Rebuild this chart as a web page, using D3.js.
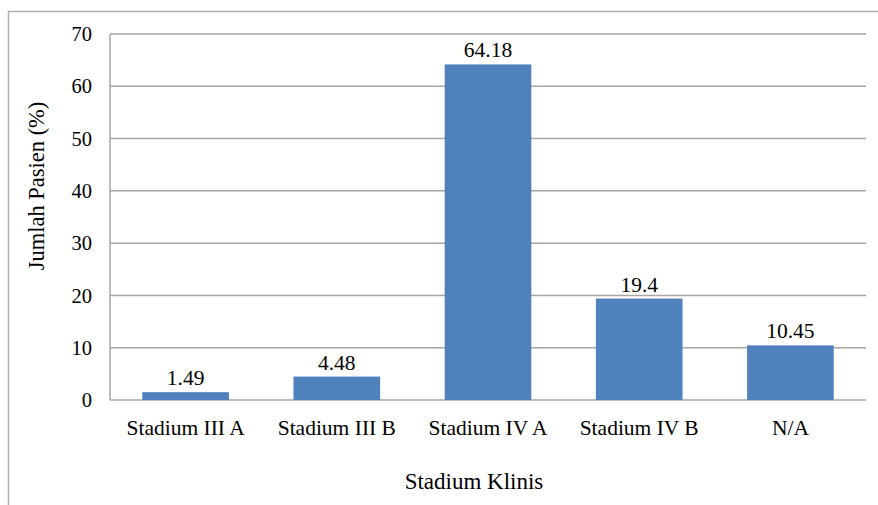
<!DOCTYPE html>
<html>
<head>
<meta charset="utf-8">
<script src="https://cdnjs.cloudflare.com/ajax/libs/d3/7.8.5/d3.min.js"></script>
<style>
body { margin: 0; background: #fff; }
text { font-family: "Liberation Serif", "Times New Roman", serif; fill: #000; }
</style>
</head>
<body>
<svg id="chart" width="878" height="505"></svg>
<script>
var categories = ['Stadium III A', 'Stadium III B', 'Stadium IV A', 'Stadium IV B', 'N/A'];
var values = [1.49, 4.48, 64.18, 19.4, 10.45];
var valueLabels = ['1.49', '4.48', '64.18', '19.4', '10.45'];
var yTicks = [0, 10, 20, 30, 40, 50, 60, 70];

var svg = d3.select('#chart');
var margin = { left: 110, right: 12, top: 34, bottom: 105 };
var width = 878, height = 505;

// outer frame
svg.append('rect')
    .attr('x', 8.5).attr('y', 11.5)
    .attr('width', 900).attr('height', 600)
    .attr('fill', 'none').attr('stroke', '#b0b0b0').attr('stroke-width', 1.5);

var x = d3.scaleBand()
    .domain(categories)
    .range([margin.left, width - margin.right])
    .paddingInner(0.427)
    .paddingOuter(0.2135);

var y = d3.scaleLinear()
    .domain([0, 70])
    .range([height - margin.bottom, margin.top]);

// gridlines
svg.append('g')
    .selectAll('line')
    .data(yTicks)
    .enter()
    .append('line')
    .attr('x1', margin.left).attr('x2', width - margin.right)
    .attr('y1', function (d) { return y(d); })
    .attr('y2', function (d) { return y(d); })
    .attr('stroke', '#a6a6a6').attr('stroke-width', 1.5);

// y axis line
svg.append('line')
    .attr('x1', margin.left).attr('x2', margin.left)
    .attr('y1', y(0)).attr('y2', y(70))
    .attr('stroke', '#a6a6a6').attr('stroke-width', 1.5);

// y tick labels
svg.append('g')
    .selectAll('text')
    .data(yTicks)
    .enter()
    .append('text')
    .attr('x', margin.left - 18)
    .attr('y', function (d) { return y(d); })
    .attr('dy', '0.35em')
    .attr('text-anchor', 'end')
    .style('font-size', '20.5px')
    .text(function (d) { return d; });

// bars
svg.append('g')
    .selectAll('rect')
    .data(values)
    .enter()
    .append('rect')
    .attr('x', function (d, i) { return x(categories[i]); })
    .attr('width', x.bandwidth())
    .attr('y', function (d) { return y(d); })
    .attr('height', function (d) { return y(0) - y(d); })
    .attr('fill', '#4f81bd');

// value labels
svg.append('g')
    .selectAll('text')
    .data(values)
    .enter()
    .append('text')
    .attr('x', function (d, i) { return x(categories[i]) + x.bandwidth() / 2; })
    .attr('y', function (d) { return y(d) - 7; })
    .attr('text-anchor', 'middle')
    .style('font-size', '21.5px')
    .text(function (d, i) { return valueLabels[i]; });

// category labels
svg.append('g')
    .selectAll('text')
    .data(categories)
    .enter()
    .append('text')
    .attr('x', function (d) { return x(d) + x.bandwidth() / 2; })
    .attr('y', y(0) + 35)
    .attr('text-anchor', 'middle')
    .style('font-size', '21.5px')
    .text(function (d) { return d; });

// axis titles
svg.append('text')
    .attr('x', 474).attr('y', 489)
    .attr('text-anchor', 'middle')
    .style('font-size', '23px')
    .text('Stadium Klinis');

svg.append('text')
    .attr('transform', 'translate(44 ' + ((y(0) + y(70)) / 2 - 31) + ') rotate(-90)')
    .attr('text-anchor', 'middle')
    .style('font-size', '22.5px')
    .text('Jumlah Pasien (%)');
</script>
</body>
</html>
